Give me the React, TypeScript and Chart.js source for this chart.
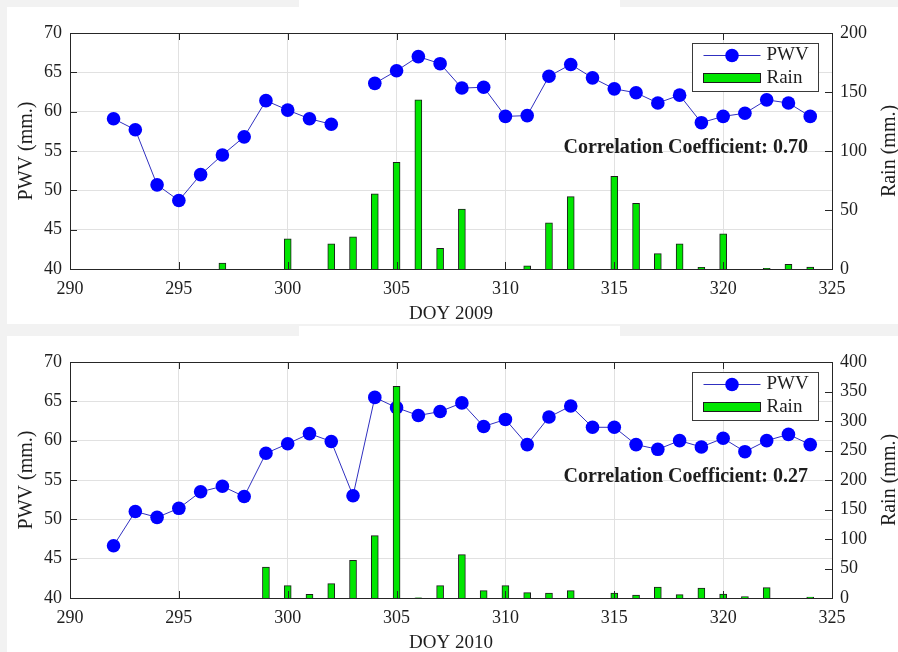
import React, { useEffect, useRef } from "react";
import { Chart, registerables } from "chart.js";

Chart.register(...registerables);

// ---------- data ----------
const DAYS = [
  292, 293, 294, 295, 296, 297, 298, 299, 300, 301, 302, 303, 304, 305, 306, 307, 308,
  309, 310, 311, 312, 313, 314, 315, 316, 317, 318, 319, 320, 321, 322, 323, 324,
];

const PWV_2009 = [
  59.1, 57.7, 50.7, 48.7, 52.0, 54.5, 56.8, 61.4, 60.2, 59.1, 58.4, null, 63.6, 65.2, 67.0, 66.1, 63.0,
  63.1, 59.4, 59.5, 64.5, 66.0, 64.3, 62.9, 62.4, 61.1, 62.1, 58.6, 59.4, 59.8, 61.5, 61.1, 59.4,
];
const RAIN_2009 = [
  0, 0, 0, 0, 0, 5.1, 0, 0, 25.5, 0, 21.3, 27.2, 63.8, 90.5, 143.3, 17.6, 50.8,
  0, 0, 2.6, 39.1, 61.3, 0, 78.6, 55.6, 13.0, 21.3, 1.4, 29.8, 0, 0.5, 4.0, 1.7,
];

const PWV_2010 = [
  46.65, 51.0, 50.25, 51.4, 53.5, 54.2, 52.9, 58.4, 59.6, 60.9, 59.9, 53.0, 65.5, 64.2, 63.2, 63.7, 64.8,
  61.8, 62.7, 59.5, 63.0, 64.4, 61.7, 61.7, 59.5, 58.9, 60.0, 59.2, 60.3, 58.6, 60.0, 60.8, 59.5,
];
const RAIN_2010 = [
  0, 0, 0, 0, 0, 0, 0, 52.5, 20.9, 6.2, 24.3, 63.8, 105.6, 358.8, 0.5, 20.9, 73.4,
  12.4, 20.9, 9.0, 8.5, 12.4, 0, 8.5, 5.1, 18.6, 5.6, 16.9, 6.8, 2.3, 17.5, 0, 1.7,
];

const X_TICKS = [290, 295, 300, 305, 310, 315, 320, 325];
const PWV_TICKS = [40, 45, 50, 55, 60, 65, 70];
const RAIN_TICKS_2009 = [0, 50, 100, 150, 200];
const RAIN_TICKS_2010 = [0, 50, 100, 150, 200, 250, 300, 350, 400];

const PWV_LABEL = "PWV";
const RAIN_LABEL = "Rain";
const PWV_AXIS = "PWV (mm.)";
const RAIN_AXIS = "Rain (mm.)";
const X_TITLE_2009 = "DOY 2009";
const X_TITLE_2010 = "DOY 2010";
const CORR_2009 = "Correlation Coefficient: 0.70";
const CORR_2010 = "Correlation Coefficient: 0.27";

// ---------- styling ----------
const SERIF = "'Liberation Serif', 'Times New Roman', serif";
const TEXT = "#1e1e1e";
const AXIS = "#262626";
const GRID = "#e1e1e1";
const MARKER = "#0000ff";
const LINE = "#3030c0";
const BAR = "#00e600";
const BAR_EDGE = "#1c1c1c";

type PanelProps = {
  pwv: (number | null)[];
  rain: number[];
  rainTicks: number[];
  xTitle: string;
  corr: string;
  width: number;
  height: number;
  top: number;
};

function Panel({ pwv, rain, rainTicks, xTitle, corr, width, height, top }: PanelProps) {
  const ref = useRef<HTMLCanvasElement | null>(null);

  useEffect(() => {
    if (!ref.current) return;
    const plotTop = 26;
    const plotH = 236;
    const xAxisH = height - plotTop - plotH;

    const framePlugin = {
      id: "matlabFrame",
      afterDraw(chart: any) {
        const { ctx, chartArea } = chart;
        const { left, top: t, right, bottom } = chartArea;
        const xs = chart.scales.x;
        const ys = chart.scales.y;
        const ys1 = chart.scales.y1;
        ctx.save();
        // box
        ctx.strokeStyle = AXIS;
        ctx.lineWidth = 1;
        ctx.strokeRect(Math.round(left) + 0.5, Math.round(t) + 0.5, Math.round(right - left), Math.round(bottom - t));
        // inner ticks
        const tl = 7;
        ctx.beginPath();
        X_TICKS.forEach((v) => {
          const px = Math.round(xs.getPixelForValue(v)) + 0.5;
          ctx.moveTo(px, bottom);
          ctx.lineTo(px, bottom - tl);
          ctx.moveTo(px, t);
          ctx.lineTo(px, t + tl);
        });
        PWV_TICKS.forEach((v) => {
          const py = Math.round(ys.getPixelForValue(v)) + 0.5;
          ctx.moveTo(left, py);
          ctx.lineTo(left + tl, py);
        });
        rainTicks.forEach((v) => {
          const py = Math.round(ys1.getPixelForValue(v)) + 0.5;
          ctx.moveTo(right, py);
          ctx.lineTo(right - tl, py);
        });
        ctx.stroke();

        // axis titles
        ctx.fillStyle = TEXT;
        ctx.textAlign = "center";
        ctx.textBaseline = "middle";
        ctx.font = `19px ${SERIF}`;
        ctx.fillText(xTitle, (left + right) / 2, bottom + 45);
        ctx.font = `20px ${SERIF}`;
        const midY = (t + bottom) / 2;
        ctx.save();
        ctx.translate(20, midY);
        ctx.rotate(-Math.PI / 2);
        ctx.fillText(PWV_AXIS, 0, 0);
        ctx.restore();
        ctx.save();
        ctx.translate(right + 58, midY);
        ctx.rotate(-Math.PI / 2);
        ctx.fillText(RAIN_AXIS, 0, 0);
        ctx.restore();

        // legend
        const bw = 126;
        const bh = 48;
        const bx = Math.round(right - 14 - bw) + 0.5;
        const by = Math.round(t + 10) + 0.5;
        ctx.fillStyle = "#ffffff";
        ctx.fillRect(bx, by, bw, bh);
        ctx.strokeStyle = "#3a3a3a";
        ctx.lineWidth = 1;
        ctx.strokeRect(bx, by, bw, bh);
        const sx0 = bx + 11;
        const sx1 = bx + 68;
        const ly = by + 12;
        ctx.strokeStyle = LINE;
        ctx.beginPath();
        ctx.moveTo(sx0, ly);
        ctx.lineTo(sx1, ly);
        ctx.stroke();
        ctx.fillStyle = MARKER;
        ctx.beginPath();
        ctx.arc((sx0 + sx1) / 2, ly, 6.8, 0, Math.PI * 2);
        ctx.fill();
        ctx.fillStyle = BAR;
        ctx.fillRect(sx0, by + 30, sx1 - sx0, 9);
        ctx.strokeStyle = BAR_EDGE;
        ctx.strokeRect(sx0, by + 30, sx1 - sx0, 9);
        ctx.fillStyle = TEXT;
        ctx.textAlign = "left";
        ctx.font = `19px ${SERIF}`;
        const ds = chart.data.datasets;
        ctx.fillText(ds[0].label, bx + 74, ly);
        ctx.fillText(ds[1].label, bx + 74, by + 35);

        // correlation text
        ctx.font = `bold 20px ${SERIF}`;
        ctx.textAlign = "right";
        ctx.fillText(corr, right - 24, t + 115);
        ctx.restore();
      },
    };

    const chart = new Chart(ref.current, {
      type: "bar",
      data: {
        datasets: [
          {
            type: "line",
            label: PWV_LABEL,
            data: DAYS.map((d, i) => ({ x: d, y: pwv[i] })),
            yAxisID: "y",
            xAxisID: "x",
            borderColor: LINE,
            borderWidth: 1,
            backgroundColor: MARKER,
            pointBackgroundColor: MARKER,
            pointBorderColor: MARKER,
            pointBorderWidth: 0,
            pointRadius: 6.8,
            spanGaps: false,
            tension: 0,
            order: 2,
          } as any,
          {
            type: "bar",
            label: RAIN_LABEL,
            data: DAYS.map((d, i) => ({ x: d, y: rain[i] })),
            yAxisID: "y1",
            xAxisID: "x",
            backgroundColor: BAR,
            borderColor: BAR_EDGE,
            borderWidth: 1,
            barThickness: 7,
            order: 1,
          } as any,
        ],
      },
      options: {
        responsive: false,
        animation: false,
        layout: { padding: { top: plotTop, left: 0, right: 0, bottom: 0 }, autoPadding: false },
        plugins: { legend: { display: false }, tooltip: { enabled: false } },
        scales: {
          x: {
            type: "linear",
            min: 290,
            max: 325,
            offset: false,
            afterFit: (s: any) => {
              s.height = xAxisH;
            },
            afterBuildTicks: (s: any) => {
              s.ticks = X_TICKS.map((v) => ({ value: v }));
            },
            grid: { color: GRID, drawTicks: false, offset: false, lineWidth: 1 },
            border: { display: false },
            ticks: {
              padding: 9,
              color: TEXT,
              font: { family: SERIF, size: 18 },
              maxRotation: 0,
              autoSkip: false,
            },
          },
          y: {
            type: "linear",
            position: "left",
            min: 40,
            max: 70,
            afterFit: (s: any) => {
              s.width = 63;
            },
            afterBuildTicks: (s: any) => {
              s.ticks = PWV_TICKS.map((v) => ({ value: v }));
            },
            grid: { color: GRID, drawTicks: false, lineWidth: 1 },
            border: { display: false },
            ticks: { padding: 8, color: TEXT, font: { family: SERIF, size: 18 } },
          },
          y1: {
            type: "linear",
            position: "right",
            min: 0,
            max: rainTicks[rainTicks.length - 1],
            afterFit: (s: any) => {
              s.width = 66;
            },
            afterBuildTicks: (s: any) => {
              s.ticks = rainTicks.map((v) => ({ value: v }));
            },
            grid: { display: false, drawTicks: false },
            border: { display: false },
            ticks: { padding: 8, color: TEXT, font: { family: SERIF, size: 18 } },
          },
        },
      } as any,
      plugins: [framePlugin],
    });
    return () => chart.destroy();
  }, [pwv, rain, rainTicks, xTitle, corr, width, height]);

  return (
    <canvas
      ref={ref}
      width={width}
      height={height}
      style={{ position: "absolute", left: 7, top, width, height, display: "block", background: "#ffffff" }}
    />
  );
}

export default function App() {
  useEffect(() => {
    document.body.style.margin = "0";
  }, []);
  return (
    <div style={{ position: "relative", width: 898, height: 652, background: "#f2f2f2", overflow: "hidden" }}>
      <div style={{ position: "absolute", left: 299, top: 0, width: 321, height: 8, background: "#ffffff" }} />
      <div style={{ position: "absolute", left: 299, top: 326, width: 321, height: 11, background: "#ffffff" }} />
      <Panel
        pwv={PWV_2009}
        rain={RAIN_2009}
        rainTicks={RAIN_TICKS_2009}
        xTitle={X_TITLE_2009}
        corr={CORR_2009}
        width={891}
        height={317}
        top={7}
      />
      <Panel
        pwv={PWV_2010}
        rain={RAIN_2010}
        rainTicks={RAIN_TICKS_2010}
        xTitle={X_TITLE_2010}
        corr={CORR_2010}
        width={891}
        height={316}
        top={336}
      />
    </div>
  );
}
